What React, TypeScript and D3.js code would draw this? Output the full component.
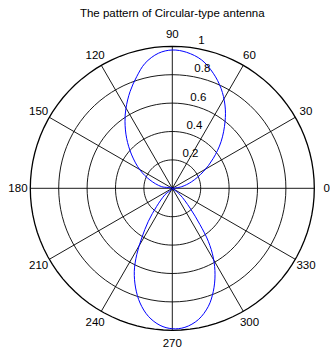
import { useRef, useEffect } from "react";
import * as d3 from "d3";

const title = "The pattern of Circular-type antenna";

// pattern: angle in degrees, normalised radius
const patternAngles = [
  0, 9.7, 18.8, 28.2, 36.2, 43.7, 51.6, 57.7, 64, 70.4, 77.1, 84, 90, 95.9,
  102.3, 107.7, 113.6, 120.1, 125.4, 132.4, 140.6, 150.5, 159.6, 171.4, 180,
  221.2, 229.1, 234, 238.4, 241.8, 245.4, 249.8, 254.3, 259.4, 264.9, 270,
  275.2, 281.2, 287, 291.7, 296.3, 300.5, 304.2, 307.3, 311.9, 320.3, 360,
];
const patternValues = [
  0, 0.067, 0.144, 0.248, 0.358, 0.475, 0.598, 0.694, 0.783, 0.86, 0.927,
  0.963, 0.974, 0.956, 0.901, 0.825, 0.743, 0.651, 0.575, 0.477, 0.37, 0.261,
  0.168, 0.076, 0, 0.068, 0.168, 0.287, 0.411, 0.53, 0.643, 0.748, 0.839,
  0.917, 0.969, 0.989, 0.983, 0.943, 0.869, 0.781, 0.679, 0.57, 0.451, 0.322,
  0.187, 0.07, 0,
];

const radialTicks = [0.2, 0.4, 0.6, 0.8, 1];
const angleTicks = [0, 30, 60, 90, 120, 150, 180, 210, 240, 270, 300, 330];

export default function App() {
  const ref = useRef<HTMLDivElement>(null);

  function init() {
    const settings = {
      width: 330,
      height: 356,
      cx: 172.3,
      cy: 188.3,
      radius: 142,
    };

    const r = d3.scaleLinear().domain([0, 1]).range([0, settings.radius]);
    // math angle (deg, ccw from east) -> d3 radial angle (rad, cw from north)
    const toRadial = (deg: number) => Math.PI / 2 - (deg * Math.PI) / 180;
    const px = (deg: number, v: number) =>
      settings.cx + r(v) * Math.cos((deg * Math.PI) / 180);
    const py = (deg: number, v: number) =>
      settings.cy - r(v) * Math.sin((deg * Math.PI) / 180);

    const svg = d3
      .create("svg")
      .attr("width", settings.width)
      .attr("height", settings.height)
      .attr("viewBox", [0, 0, settings.width, settings.height])
      .attr("font-family", "Arial, 'Liberation Sans', Helvetica, sans-serif")
      .attr("font-size", 11.5)
      .style("position", "absolute")
      .style("left", "0px")
      .style("top", "0px")
      .style("background", "#fff");

    const g = svg
      .append("g")
      .attr("transform", `translate(${settings.cx},${settings.cy})`);

    // rings drawn as 100-sided polygons like matlab's polar
    const ringSteps = d3.range(0, 101).map((i) => (i / 100) * 360);
    const ring = d3
      .lineRadial<number>()
      .angle((d) => toRadial(d))
      .curve(d3.curveLinear);

    g.selectAll(".ring")
      .data(radialTicks)
      .join("path")
      .attr("class", "ring")
      .attr("d", (t) => ring.radius(r(t))(ringSteps))
      .attr("fill", "none")
      .attr("stroke", "#000")
      .attr("stroke-width", (t) => (t === 1 ? 1.3 : 0.9));

    // spokes: full diameters every 30 degrees
    g.selectAll(".spoke")
      .data(angleTicks.filter((a) => a < 180))
      .join("line")
      .attr("class", "spoke")
      .attr("x1", (a) => -r(1) * Math.cos((a * Math.PI) / 180))
      .attr("y1", (a) => r(1) * Math.sin((a * Math.PI) / 180))
      .attr("x2", (a) => r(1) * Math.cos((a * Math.PI) / 180))
      .attr("y2", (a) => -r(1) * Math.sin((a * Math.PI) / 180))
      .attr("stroke", "#000")
      .attr("stroke-width", 0.9);

    // radial tick labels at 82 degrees
    svg
      .append("g")
      .selectAll("text")
      .data(radialTicks)
      .join("text")
      .attr("x", (t) => px(82, t + 0.01) + 6)
      .attr("y", (t) => py(82, t + 0.01) - 2)
      .attr("fill", "#000")
      .text((t) => String(t));

    // angle labels
    svg
      .append("g")
      .selectAll("text")
      .data(angleTicks)
      .join("text")
      .attr("x", (a) => px(a, 1.087))
      .attr("y", (a) => py(a, 1.087))
      .attr("text-anchor", "middle")
      .attr("dominant-baseline", "central")
      .attr("fill", "#000")
      .text((a) => String(a));

    // antenna pattern
    const pattern = d3
      .lineRadial<number>()
      .angle((_, i) => toRadial(patternAngles[i]))
      .radius((d) => r(d))
      .curve(d3.curveCatmullRom.alpha(0.5));

    g.append("path")
      .attr("d", pattern(patternValues))
      .attr("fill", "none")
      .attr("stroke", "#0000ff")
      .attr("stroke-width", 1);

    svg
      .append("text")
      .attr("x", settings.cx)
      .attr("y", 17)
      .attr("text-anchor", "middle")
      .attr("font-size", 11.5)
      .attr("fill", "#000")
      .text(title);

    const node = ref.current;
    if (node) {
      node.innerHTML = "";
      node.appendChild(svg.node() as SVGSVGElement);
    }
  }

  useEffect(init, []);
  return <div ref={ref}></div>;
}
